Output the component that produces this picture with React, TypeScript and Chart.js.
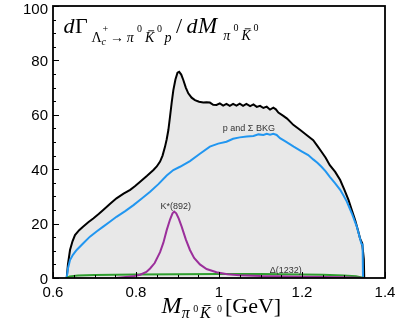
import React, { useEffect, useRef } from "react";
import { Chart, registerables } from "chart.js";

Chart.register(...registerables);

// Total distribution (black)
const totalM = [0.633,0.636,0.641,0.647,0.653,0.663,0.673,0.685,0.697,0.71,0.721,0.737,0.753,0.77,0.786,0.798,0.81,0.826,0.842,0.85,0.858,0.864,0.87,0.874,0.878,0.882,0.886,0.89,0.895,0.9,0.904,0.909,0.914,0.92,0.926,0.934,0.942,0.952,0.962,0.97,0.978,0.986,0.994,1.002,1.01,1.018,1.026,1.034,1.042,1.05,1.058,1.066,1.075,1.083,1.091,1.099,1.107,1.115,1.123,1.131,1.137,1.143,1.155,1.164,1.179,1.195,1.211,1.227,1.237,1.247,1.257,1.267,1.28,1.292,1.302,1.312,1.32,1.328,1.335,1.34,1.345,1.349,1.35];
const totalV = [0,5,10.3,13.5,15.8,17.6,18.9,20.5,21.9,23.5,25,27.2,29.3,31,32.4,33.8,35.4,37.5,39.7,41,42.8,45,48.3,51,54.4,59.3,64.5,69.1,73,75.5,75.8,74.8,72.8,70,67.9,66.3,65.4,64.8,64.5,64.6,64.5,63.7,63.6,64.2,63.4,64,63.3,64,63.4,64.1,63.3,64,63.2,63.8,62.9,63.3,62.5,63,61.9,62.6,62,60.8,59.6,58.6,56.3,54.5,52.6,50.7,48.6,46.4,44.2,41.5,39,36,32.5,28.7,25,21.3,17.5,14.5,12.8,7,0];

// p and Sigma background (blue)
const bkgM = [0.633,0.636,0.641,0.648,0.657,0.673,0.689,0.705,0.721,0.737,0.753,0.774,0.794,0.814,0.834,0.854,0.874,0.89,0.906,0.93,0.954,0.978,0.998,1.018,1.034,1.05,1.067,1.083,1.095,1.107,1.115,1.123,1.131,1.139,1.147,1.16,1.18,1.2,1.215,1.227,1.237,1.247,1.257,1.267,1.28,1.292,1.3,1.308,1.32,1.332,1.339,1.343,1.346,1.347];
const bkgV = [0,3.5,6.6,8.5,10.3,12.8,15.2,17.1,18.9,20.7,22.5,24.6,26.8,29.2,31.7,34.5,37.7,39.7,40.9,43,45.7,48.3,49.4,50.1,51.2,51.7,52,52.2,52.8,52.6,53,52.7,53,52.6,51.4,50.2,48.3,46.5,45.2,43.6,42.4,40.9,39.2,37.2,34.8,32.4,30.3,28.1,23.8,18.9,15,12.6,12.3,0];

// K*(892) (purple)
const kstM = [0.75,0.77,0.793,0.81,0.825,0.834,0.845,0.858,0.866,0.874,0.882,0.888,0.892,0.897,0.903,0.91,0.92,0.93,0.94,0.954,0.97,0.994,1.02,1.05,1.1,1.2,1.3,1.349];
const kstV = [0,0.3,0.6,1.2,2.2,3.5,5.5,9.5,13,17.6,21.5,23.8,24.4,23.8,21.8,18.9,14.2,10.3,7.4,5,3.3,2.1,1.4,1,0.7,0.5,0.3,0];

// Delta(1232) (green)
const delM = [0.633,0.64,0.66,0.7,0.8,0.9,1.0,1.1,1.2,1.25,1.3,1.33,1.349];
const delV = [0,0.6,0.9,1.1,1.3,1.4,1.5,1.5,1.3,1.2,0.9,0.6,0];

const xTicks = [0.6, 0.8, 1, 1.2, 1.4];
const yTicks = [0, 20, 40, 60, 80, 100];

const labels = [
  { text: "p and Σ BKG", x: 1.072, y: 53.9 },
  { text: "K*(892)", x: 0.896, y: 25.4 },
  { text: "Δ(1232)", x: 1.161, y: 1.9 },
];

const pts = (m: number[], v: number[]) => m.map((x, i) => ({ x, y: v[i] }));

// glyph pieces of the formulas: [text, left x, baseline y, font size, italic, overbar]
type G = [string, number, number, number, boolean, boolean?];

const titleGlyphs: G[] = [
  ["d", 63.5, 33, 22, true],
  ["Γ", 75, 33, 22, false],
  ["Λ", 91.5, 42.3, 14, false],
  ["c", 101.5, 45, 10, true],
  ["+", 102.5, 31.5, 10, false],
  ["→", 110, 42, 14, false],
  ["π", 126.7, 42, 14, true],
  ["0", 137, 31.7, 10, false],
  ["K", 145, 42, 14, true, true],
  ["0", 157, 31.7, 10, false],
  ["p", 164.5, 42, 14, true],
  ["/", 176, 33, 22, false],
  ["d", 186.5, 33, 22, true],
  ["M", 198, 33, 23, true],
  ["π", 223.3, 40, 14, true],
  ["0", 233.5, 31, 10, false],
  ["K", 241.5, 40, 14, true, true],
  ["0", 253.5, 31, 10, false],
];

const xTitleGlyphs: G[] = [
  ["M", 161.5, 313.3, 24, true],
  ["π", 181.7, 318.3, 16, true],
  ["0", 193.3, 311.7, 10, false],
  ["K", 200, 318.3, 16, true, true],
  ["0", 217, 311.7, 10, false],
  ["[GeV]", 225, 313.3, 22, false],
];

function drawGlyphs(ctx: CanvasRenderingContext2D, gs: G[]) {
  for (const [t, x, y, size, italic, bar] of gs) {
    ctx.font = `${italic ? "italic " : ""}${size}px "Liberation Serif", serif`;
    ctx.fillText(t, x, y);
    if (bar) {
      const w = ctx.measureText(t).width;
      ctx.save();
      ctx.lineWidth = 0.9;
      ctx.beginPath();
      const by = y - size * 0.8;
      ctx.moveTo(x + w * 0.35, by);
      ctx.lineTo(x + w * 0.98, by);
      ctx.stroke();
      ctx.restore();
    }
  }
}

const fmt = (v: number) => String(Number(v.toFixed(1)));

const decorPlugin = {
  id: "decor",
  afterDatasetsDraw(chart: any) {
    const { ctx, chartArea: a, scales } = chart;
    const xs = scales.x;
    const ys = scales.y;
    ctx.save();
    ctx.fillStyle = "#333";
    ctx.font = '9px "Liberation Sans", Arial, sans-serif';
    ctx.textAlign = "center";
    ctx.textBaseline = "alphabetic";
    for (const l of labels) {
      ctx.fillText(l.text, xs.getPixelForValue(l.x), ys.getPixelForValue(l.y));
    }
    // inward ticks
    ctx.strokeStyle = "#000";
    ctx.lineWidth = 1;
    for (let k = 0; k <= 16; k++) {
      const v = 0.6 + k * 0.05;
      const px = Math.round(xs.getPixelForValue(v)) + 0.5;
      const len = k % 4 === 0 ? 6 : 3;
      ctx.beginPath();
      ctx.moveTo(px, a.bottom);
      ctx.lineTo(px, a.bottom - len);
      ctx.stroke();
    }
    for (let k = 0; k <= 20; k++) {
      const v = k * 5;
      const py = Math.round(ys.getPixelForValue(v)) + 0.5;
      const len = k % 4 === 0 ? 6 : 3;
      ctx.beginPath();
      ctx.moveTo(a.left, py);
      ctx.lineTo(a.left + len, py);
      ctx.stroke();
    }
    // frame
    ctx.lineWidth = 1.8;
    ctx.strokeRect(a.left, a.top, a.right - a.left, a.bottom - a.top);

    // tick labels
    ctx.fillStyle = "#000";
    ctx.font = '15px "Liberation Sans", Arial, sans-serif';
    ctx.textAlign = "right";
    ctx.textBaseline = "middle";
    for (const v of yTicks) {
      const py = Math.max(ys.getPixelForValue(v) + 1.5, 9.5);
      ctx.fillText(String(v), a.left - 5, py);
    }
    ctx.textAlign = "center";
    for (const v of xTicks) {
      ctx.fillText(fmt(v), xs.getPixelForValue(v), a.bottom + 15);
    }

    // formulas
    ctx.strokeStyle = "#000";
    ctx.textAlign = "left";
    ctx.textBaseline = "alphabetic";
    drawGlyphs(ctx, titleGlyphs);
    drawGlyphs(ctx, xTitleGlyphs);
    ctx.restore();
  },
};

export default function App() {
  const ref = useRef<HTMLCanvasElement | null>(null);
  useEffect(() => {
    if (!ref.current) return;
    const chart = new Chart(ref.current, {
      type: "line",
      data: {
        datasets: [
          {
            data: pts(totalM, totalV),
            borderColor: "#000",
            backgroundColor: "#e8e8e8",
            borderWidth: 2,
            fill: "origin",
            pointRadius: 0,
            order: 4,
          },
          {
            data: pts(bkgM, bkgV),
            borderColor: "#2196f0",
            borderWidth: 2,
            fill: false,
            pointRadius: 0,
            order: 3,
          },
          {
            data: pts(delM, delV),
            borderColor: "#2e9e2e",
            borderWidth: 2,
            fill: false,
            pointRadius: 0,
            order: 2,
          },
          {
            data: pts(kstM, kstV),
            borderColor: "#9b2f9b",
            borderWidth: 2,
            fill: false,
            pointRadius: 0,
            order: 1,
          },
        ],
      },
      options: {
        animation: false,
        responsive: false,
        devicePixelRatio: 1,
        layout: { padding: { top: 6, right: 14, left: 0, bottom: 0 } },
        plugins: { legend: { display: false }, tooltip: { enabled: false }, title: { display: false } },
        scales: {
          x: {
            type: "linear",
            min: 0.6,
            max: 1.4,
            afterFit: (s: any) => {
              s.height = 54;
            },
            grid: { display: false, drawTicks: false },
            border: { display: false },
            ticks: { display: false },
          },
          y: {
            type: "linear",
            min: 0,
            max: 100,
            afterFit: (s: any) => {
              s.width = 53;
            },
            grid: { display: false, drawTicks: false },
            border: { display: false },
            ticks: { display: false },
          },
        },
      },
      plugins: [decorPlugin],
    } as any);
    return () => chart.destroy();
  }, []);
  return (
    <div style={{ position: "absolute", left: 0, top: 0, width: 399, height: 332, background: "#fff" }}>
      <canvas ref={ref} width={399} height={332} style={{ display: "block" }} />
    </div>
  );
}
